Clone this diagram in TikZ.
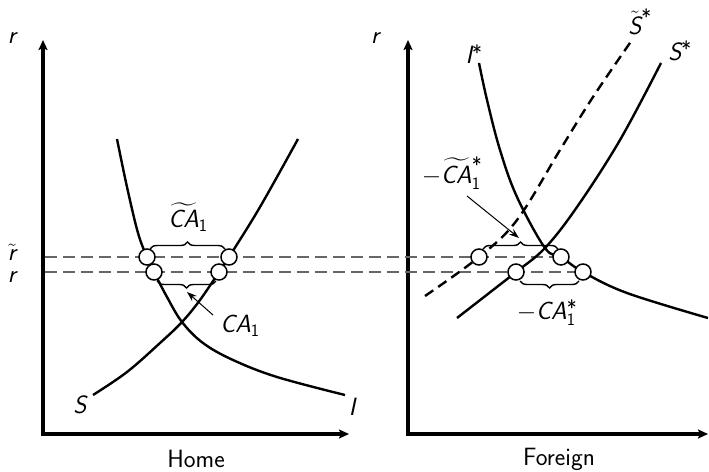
\RequirePackage{fix-cm}
\documentclass[tikz,border=0pt]{standalone}
\usepackage{amsmath}
\usepackage{fontspec}
\usetikzlibrary{arrows.meta,decorations.pathreplacing}
\newcommand\vv[1]{\hbox{\sffamily\itshape #1}}
\newcommand\one{\mathsf{1}}
\newcommand\st{\smash{\raisebox{-7pt}{\fontsize{21}{21}\selectfont\sffamily *}}}
\begin{document}
\begin{tikzpicture}[x=1pt,y=-1pt,
  lab/.style={font=\fontsize{25}{30}\selectfont\sffamily, inner sep=1pt},
  axis/.style={line width=3.5pt,-{Stealth[length=10pt,width=9pt,inset=2pt]}},
  curve/.style={line width=2.4pt},
  dcurve/.style={line width=2.4pt,dash pattern=on 10pt off 6pt},
  level/.style={gray!80!black,line width=1.1pt,dash pattern=on 12pt off 6pt},
  pt/.style={circle,draw,fill=white,minimum size=16pt,inner sep=0pt,line width=1.5pt},
  br/.style={decorate,decoration={brace,amplitude=7pt},line width=1.4pt},
  ptr/.style={line width=1pt,-{Stealth[length=10pt,width=7pt]}}]
\useasboundingbox (0,0) rectangle (709,471);
% axes
\coordinate (LO) at (43,434); \coordinate (LY) at (43,40); \coordinate (LX) at (349,434);
\coordinate (RO) at (408,434); \coordinate (RY) at (408,40); \coordinate (RX) at (708,434);
\draw[axis] (LO) -- (LY);
\draw[axis] ([xshift=-1.7pt]LO) -- (LX);
\draw[axis] (RO) -- (RY);
\draw[axis] ([xshift=-1.7pt]RO) -- (RX);
\node[lab] (rL) at (12,38) {$\vv{r}$};
\node[lab] (rR) at (375,38) {$\vv{r}$};
\node[lab] (rt) at (12,252) {$\tilde{\vv{r}}$};
\node[lab] (r0) at (12,277) {$\vv{r}$};
\node[lab] (home) at (196,459) {Home};
\node[lab] (foreign) at (559,459) {Foreign};
% dashed levels
\coordinate (d1a) at (45,257); \coordinate (d1b) at (561,257);
\coordinate (d2a) at (45,272); \coordinate (d2b) at (583,272);
\draw[level] (d1a) -- (d1b);
\draw[level] (d2a) -- (d2b);
% home curves
\draw[curve] plot[smooth,tension=0.6] coordinates {(117,139) (127,187) (138,233) (147,257) (154,272) (167,297) (182,322) (203,343) (233,360) (277,377) (345,395)};
\draw[curve] plot[smooth,tension=0.6] coordinates {(93,395) (127,372) (160,343) (182,322) (200,300) (219,272) (229,257) (260,207) (298,139)};
\node[lab] (S) at (80,405) {$\vv{S}$};
\node[lab] (I) at (352,407) {$\vv{I}$};
% foreign curves
\draw[curve] plot[smooth,tension=0.6] coordinates {(479,63) (487,100) (500,150) (517,197) (545,248) (561,257) (583,272) (627,293) (708,318)};
\draw[curve] plot[smooth,tension=0.6] coordinates {(457,318) (493,290) (516,272) (545,248) (577,207) (620,140) (661,63)};
\draw[dcurve] plot[smooth,tension=0.6] coordinates {(425,296) (479,257) (517,220) (560,150) (593,97) (632,40)};
\node[lab] (Is) at (474,55) {$\vv{I}^{\st}$};
\node[lab] (Ss) at (680,52) {$\vv{S}^{\st}$};
\node[lab] (Sts) at (640,23) {$\tilde{\vv{S}}^{\st}$};
% home braces and points
\draw[br] (150,249) -- (225,249);
\draw[br] (216,281) -- (157,281);
\node[lab] (CAt) at (188,217) {$\widetilde{\vv{CA}}_{\one}$};
\node[lab] (CA) at (240,326) {$\vv{CA}_{\one}$};
\coordinate (CAtip) at (187,292);
\draw[ptr] (213,315) -- (CAtip);
\node[pt] (h1) at (147,257) {};
\node[pt] (h2) at (229,257) {};
\node[pt] (h3) at (154,272) {};
\node[pt] (h4) at (219,272) {};
% foreign braces and points
\draw[br] (483,249) -- (558,249);
\draw[br] (579,281) -- (520,281);
\node[lab] (mCAt) at (452,174) {$-\widetilde{\vv{CA}}_{\one}^{\st}$};
\node[lab] (mCA) at (547,314) {$-\vv{CA}_{\one}^{\st}$};
\coordinate (mtip) at (519,238);
\draw[ptr] (467,196) -- (mtip);
\node[pt] (f1) at (479,257) {};
\node[pt] (f2) at (561,257) {};
\node[pt] (f3) at (516,272) {};
\node[pt] (f4) at (583,272) {};
\end{tikzpicture}
\end{document}
